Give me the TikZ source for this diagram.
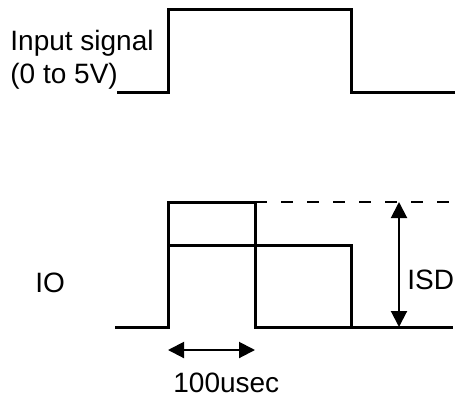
\documentclass[tikz,border=0pt]{standalone}
\usepackage{fontspec}
\setmainfont{Liberation Sans}
\usetikzlibrary{arrows.meta}

\def\inputwave{(117,92) -- (168,92) -- (168,9) -- (351,9) -- (351,92) -- (455,92)}
\def\shortpulse{(115,327) -- (168,327) -- (168,202) -- (255,202) -- (255,327) -- (453,327)}
\def\longpulse{(168,245) -- (351,245) -- (351,327)}

\begin{document}
\begin{tikzpicture}[x=0.5pt,y=-0.5pt,
    wave/.style={line width=1.5pt},
    dim/.style={{Triangle[length=8pt,width=8pt]}-{Triangle[length=8pt,width=8pt]}, line width=1pt},
    lbl/.style={inner sep=0pt, anchor=base west, font=\fontsize{14}{16.5}\selectfont}]
    \useasboundingbox (0,0) rectangle (455,398);

    \draw[wave] \inputwave;
    \node[lbl] (insig) at (10,50) {Input signal};
    \node[lbl] (range) at (10,83) {(0 to 5V)};

    % IO response: short pulse and the longer, lower one
    \draw[wave] \shortpulse;
    \draw[wave] \longpulse;
    \draw[line width=0.75pt, dash pattern=on 6pt off 7pt] (255,202) -- (455,202);

    \coordinate (isdtop) at (399,202);
    \coordinate (isdbot) at (399,327);
    \draw[dim] (isdtop) -- (isdbot);
    \node[lbl] (isd) at (407,289) {ISD};
    \node[lbl] (io) at (35,292) {IO};

    \coordinate (tstart) at (168,350);
    \coordinate (tend) at (255,350);
    \draw[dim] (tstart) -- (tend);
    \node[lbl] (tlen) at (173,392) {100usec};
\end{tikzpicture}
\end{document}
